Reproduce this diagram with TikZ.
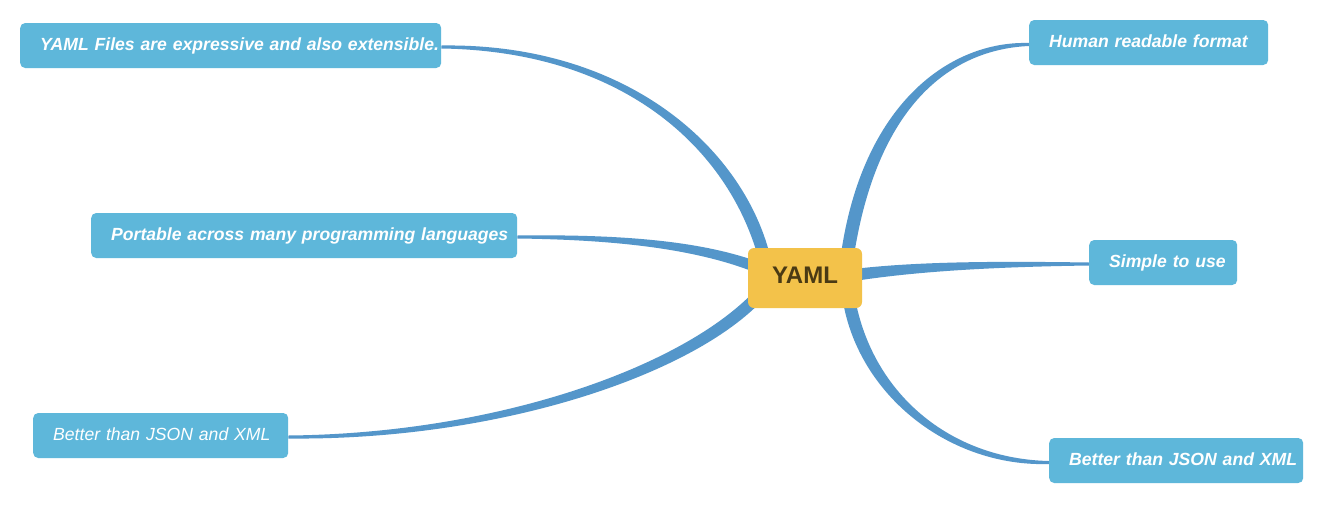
\documentclass[tikz,border=0pt]{standalone}
\usepackage{fontspec}
\setmainfont{Liberation Sans}
\usetikzlibrary{calc,backgrounds}
\definecolor{leafblue}{RGB}{94,183,218}
\definecolor{linkblue}{RGB}{84,150,202}
\definecolor{yamlfill}{RGB}{243,194,74}
\definecolor{yamltext}{RGB}{74,58,20}
\newcommand\leaftxt[1]{\makebox[\hsize][l]{\hspace{20pt}#1}}
% #1 A (leaf end), #2 C1, #3 C2, #4 B (centre end), #5..#8 half widths
\newcommand\taperlink[8]{%
  \fill[linkblue] ($(#1)!#5!90:(#2)$) .. controls ($(#2)!#6!-90:(#1)$) and ($(#3)!#7!90:(#4)$) .. ($(#4)!#8!-90:(#3)$)
    -- ($(#4)!#8!90:(#3)$) .. controls ($(#3)!#7!-90:(#4)$) and ($(#2)!#6!90:(#1)$) .. ($(#1)!#5!-90:(#2)$) -- cycle;}
\tikzset{
  leaf/.style={rectangle, rounded corners=5pt, fill=leafblue, text=white,
    inner xsep=0pt, inner ysep=0pt, minimum height=45pt, anchor=west, align=left,
    font=\fontsize{17.6}{21}\selectfont\bfseries\itshape, text height=13pt, text depth=3.7pt},
  leafreg/.style={leaf, font=\fontsize{17.6}{21}\selectfont\itshape},
  yamlbox/.style={rectangle, rounded corners=6pt, fill=yamlfill, text=yamltext,
    inner sep=0pt, minimum width=114pt, minimum height=60pt,
    font=\fontsize{24}{24}\selectfont\bfseries, text height=17.5pt, text depth=7pt}
}
\begin{document}
\begin{tikzpicture}[x=1pt,y=-1pt]
\useasboundingbox (0,0) rectangle (1324,504);

\node[yamlbox] (yaml) at (805,278) {YAML};
\node[leaf, text width=421pt] (n1) at (20,45.5) {\leaftxt{YAML Files are expressive and also extensible.}};
\node[leaf, text width=426pt] (n2) at (91,235.5) {\leaftxt{Portable across many programming languages}};
\node[leafreg, text width=255pt] (n3) at (33,435.5) {\leaftxt{Better than JSON and XML}};
\node[leaf, text width=239pt] (n4) at (1029,42.5) {\leaftxt{Human readable format}};
\node[leaf, text width=148pt] (n5) at (1089,262.5) {\leaftxt{Simple to use}};
\node[leaf, text width=254pt] (n6) at (1049,460.5) {\leaftxt{Better than JSON and XML}};

\coordinate (l1a) at ($(n1.east)+(0,1.5)$);
\coordinate (l1b) at ($(yaml.center)+(-41,-22)$);
\coordinate (l2a) at ($(n2.east)+(0,1.5)$);
\coordinate (l2b) at ($(yaml.center)+(-46,-10)$);
\coordinate (l3a) at ($(n3.east)+(0,1.5)$);
\coordinate (l3b) at ($(yaml.center)+(-45,16)$);
\coordinate (l4a) at ($(n4.west)+(0,2)$);
\coordinate (l4b) at ($(yaml.center)+(42,-20)$);
\coordinate (l5a) at ($(n5.west)+(0,1.5)$);
\coordinate (l5b) at ($(yaml.center)+(49,-3)$);
\coordinate (l6a) at ($(n6.west)+(0,2)$);
\coordinate (l6b) at ($(yaml.center)+(44,22)$);

\coordinate (k1p) at (625,47);  \coordinate (k1q) at (735,148);
\coordinate (k2p) at (620,237); \coordinate (k2q) at (700,245);
\coordinate (k3p) at (500,437); \coordinate (k3q) at (690,370);
\coordinate (k4p) at (950,45);  \coordinate (k4q) at (869,105);
\coordinate (k5p) at (1000,264);\coordinate (k5q) at (920,266);
\coordinate (k6p) at (950,463); \coordinate (k6q) at (866,395);

\begin{scope}[on background layer]
\fill[white] (0,0) rectangle (1324,504);
\taperlink{l1a}{k1p}{k1q}{l1b}{1.5pt}{4.2pt}{7pt}{6pt}
\taperlink{l2a}{k2p}{k2q}{l2b}{1.5pt}{2.8pt}{4.8pt}{5.5pt}
\taperlink{l3a}{k3p}{k3q}{l3b}{1.5pt}{3.6pt}{6.5pt}{6pt}
\taperlink{l4a}{k4p}{k4q}{l4b}{1.5pt}{4.4pt}{7.5pt}{6.5pt}
\taperlink{l5a}{k5p}{k5q}{l5b}{1.5pt}{2.8pt}{4.8pt}{6pt}
\taperlink{l6a}{k6p}{k6q}{l6b}{1.5pt}{4.2pt}{7pt}{6.2pt}
\end{scope}
\end{tikzpicture}
\end{document}
